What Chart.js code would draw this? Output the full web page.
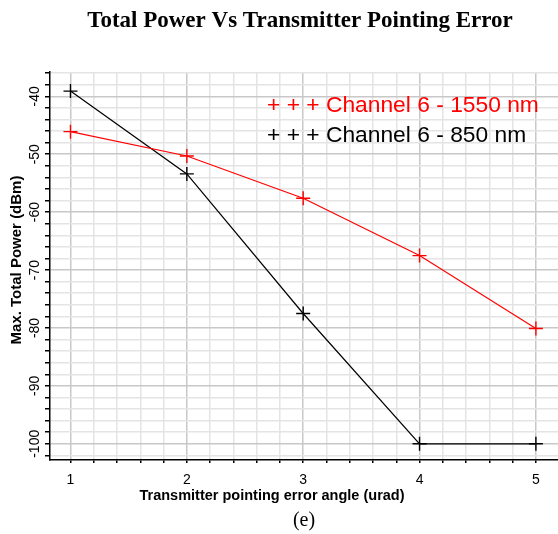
<!DOCTYPE html>
<html>
<head>
<meta charset="utf-8">
<script src="https://cdn.jsdelivr.net/npm/chart.js@4/dist/chart.umd.min.js"></script>
<style>
  html, body { margin: 0; padding: 0; background: #fff; }
  #wrap { width: 558px; height: 534px; }
</style>
</head>
<body>
<div id="wrap"><canvas id="myChart" width="558" height="534"></canvas></div>
<script>
// data
const errorAngle = [1, 2, 3, 4, 5];
const power1550 = [-46.1, -50.3, -57.6, -67.5, -80.1];
const power850 = [-39.1, -53.4, -77.5, -100, -100];
const seriesNames = ['Channel 6 - 1550 nm', 'Channel 6 - 850 nm'];
const seriesColors = ['#ff0000', '#000000'];

// axis labels
const xTickLabels = [1, 2, 3, 4, 5];
const yTickLabels = [-40, -50, -60, -70, -80, -90, -100];
const xGridStep = 0.2;
const yGridStep = 2;
const xMin = 0.824, xMax = 5.19;

function gridValues(from, to, step) {
    const out = [];
    for (let v = from; v <= to + 1e-9; v += step) out.push(+v.toFixed(4));
    return out;
}

// draws title, y tick labels, axis titles, legend and caption
const extraText = {
    id: 'extraText',
    afterDraw(chart) {
        const ctx = chart.ctx;
        const y = chart.scales.y;
        ctx.save();
        ctx.fillStyle = '#000';
        ctx.textAlign = 'center';
        ctx.textBaseline = 'middle';

        // chart title
        ctx.font = 'bold 23px "Liberation Serif", "Times New Roman", serif';
        ctx.fillText('Total Power Vs Transmitter Pointing Error', 300, 21);

        // y tick labels, rotated
        ctx.font = '14px "Liberation Sans", Arial, sans-serif';
        yTickLabels.forEach(v => {
            ctx.save();
            ctx.translate(35, y.getPixelForValue(v));
            ctx.rotate(-Math.PI / 2);
            ctx.fillText(String(v), 0, 0);
            ctx.restore();
        });

        // y axis title
        ctx.save();
        ctx.translate(17, 260);
        ctx.rotate(-Math.PI / 2);
        ctx.font = 'bold 15px "Liberation Sans", Arial, sans-serif';
        ctx.fillText('Max. Total Power (dBm)', 0, 0);
        ctx.restore();

        // x axis title
        ctx.font = 'bold 14.5px "Liberation Sans", Arial, sans-serif';
        ctx.fillText('Transmitter pointing error angle (urad)', 272, 496);

        // caption
        ctx.font = '20px "Liberation Serif", "Times New Roman", serif';
        ctx.fillText('(e)', 304, 521);

        // legend in the top right of the plot
        ctx.font = '22.8px "Liberation Sans", Arial, sans-serif';
        ctx.textAlign = 'left';
        chart.data.datasets.forEach((ds, i) => {
            ctx.fillStyle = ds.borderColor;
            ctx.fillText('+ + + ' + ds.label, 267, 106 + i * 30);
        });
        ctx.restore();
    }
};

const ctx = document.getElementById('myChart').getContext('2d');

const myChart = new Chart(ctx, {
    type: 'line',
    data: {
        labels: errorAngle,
        datasets: [
            {
                label: seriesNames[0],
                data: errorAngle.map((x, i) => ({ x: x, y: power1550[i] })),
                borderColor: seriesColors[0],
                backgroundColor: seriesColors[0],
                borderWidth: 1.2,
                pointStyle: 'cross',
                pointRadius: 7,
                pointBorderWidth: 1.4,
                tension: 0
            },
            {
                label: seriesNames[1],
                data: errorAngle.map((x, i) => ({ x: x, y: power850[i] })),
                borderColor: seriesColors[1],
                backgroundColor: seriesColors[1],
                borderWidth: 1.2,
                pointStyle: 'cross',
                pointRadius: 7,
                pointBorderWidth: 1.4,
                tension: 0
            }
        ]
    },
    options: {
        responsive: false,
        animation: false,
        layout: { autoPadding: false, padding: { top: 72, right: 0, left: 0, bottom: 0 } },
        scales: {
            x: {
                type: 'linear',
                position: 'bottom',
                min: xMin,
                max: xMax,
                afterBuildTicks: scale => {
                    scale.ticks = gridValues(1, xMax, xGridStep).map(v => ({ value: v }));
                },
                afterFit: scale => { scale.height = 74; },
                ticks: {
                    autoSkip: false,
                    maxRotation: 0,
                    padding: 9,
                    color: '#000',
                    font: { family: '"Liberation Sans", Arial, sans-serif', size: 14 },
                    callback: v => xTickLabels.includes(Math.round(v)) && Math.abs(v - Math.round(v)) < 1e-6 ? String(Math.round(v)) : ''
                },
                grid: {
                    color: c => (c.tick && Math.abs(c.tick.value - Math.round(c.tick.value)) < 1e-6) ? '#c8c8c8' : '#e4e4e4',
                    lineWidth: 1.5,
                    tickColor: '#000',
                    tickLength: 3
                },
                border: { color: '#000', width: 1.5 }
            },
            y: {
                type: 'linear',
                position: 'left',
                min: -102.8,
                max: -35.8,
                afterBuildTicks: scale => {
                    scale.ticks = gridValues(-102, -36, yGridStep).map(v => ({ value: v }));
                },
                afterFit: scale => { scale.width = 50; },
                ticks: { display: false },
                grid: {
                    color: c => (c.tick && Math.abs(c.tick.value % 10) < 1e-6) ? '#c8c8c8' : '#e4e4e4',
                    lineWidth: 1.5,
                    tickColor: '#000',
                    tickLength: 5
                },
                border: { color: '#000', width: 1.5 }
            }
        },
        plugins: {
            legend: { display: false },
            tooltip: { enabled: false },
            title: { display: false }
        }
    },
    plugins: [extraText]
});
</script>
</body>
</html>
